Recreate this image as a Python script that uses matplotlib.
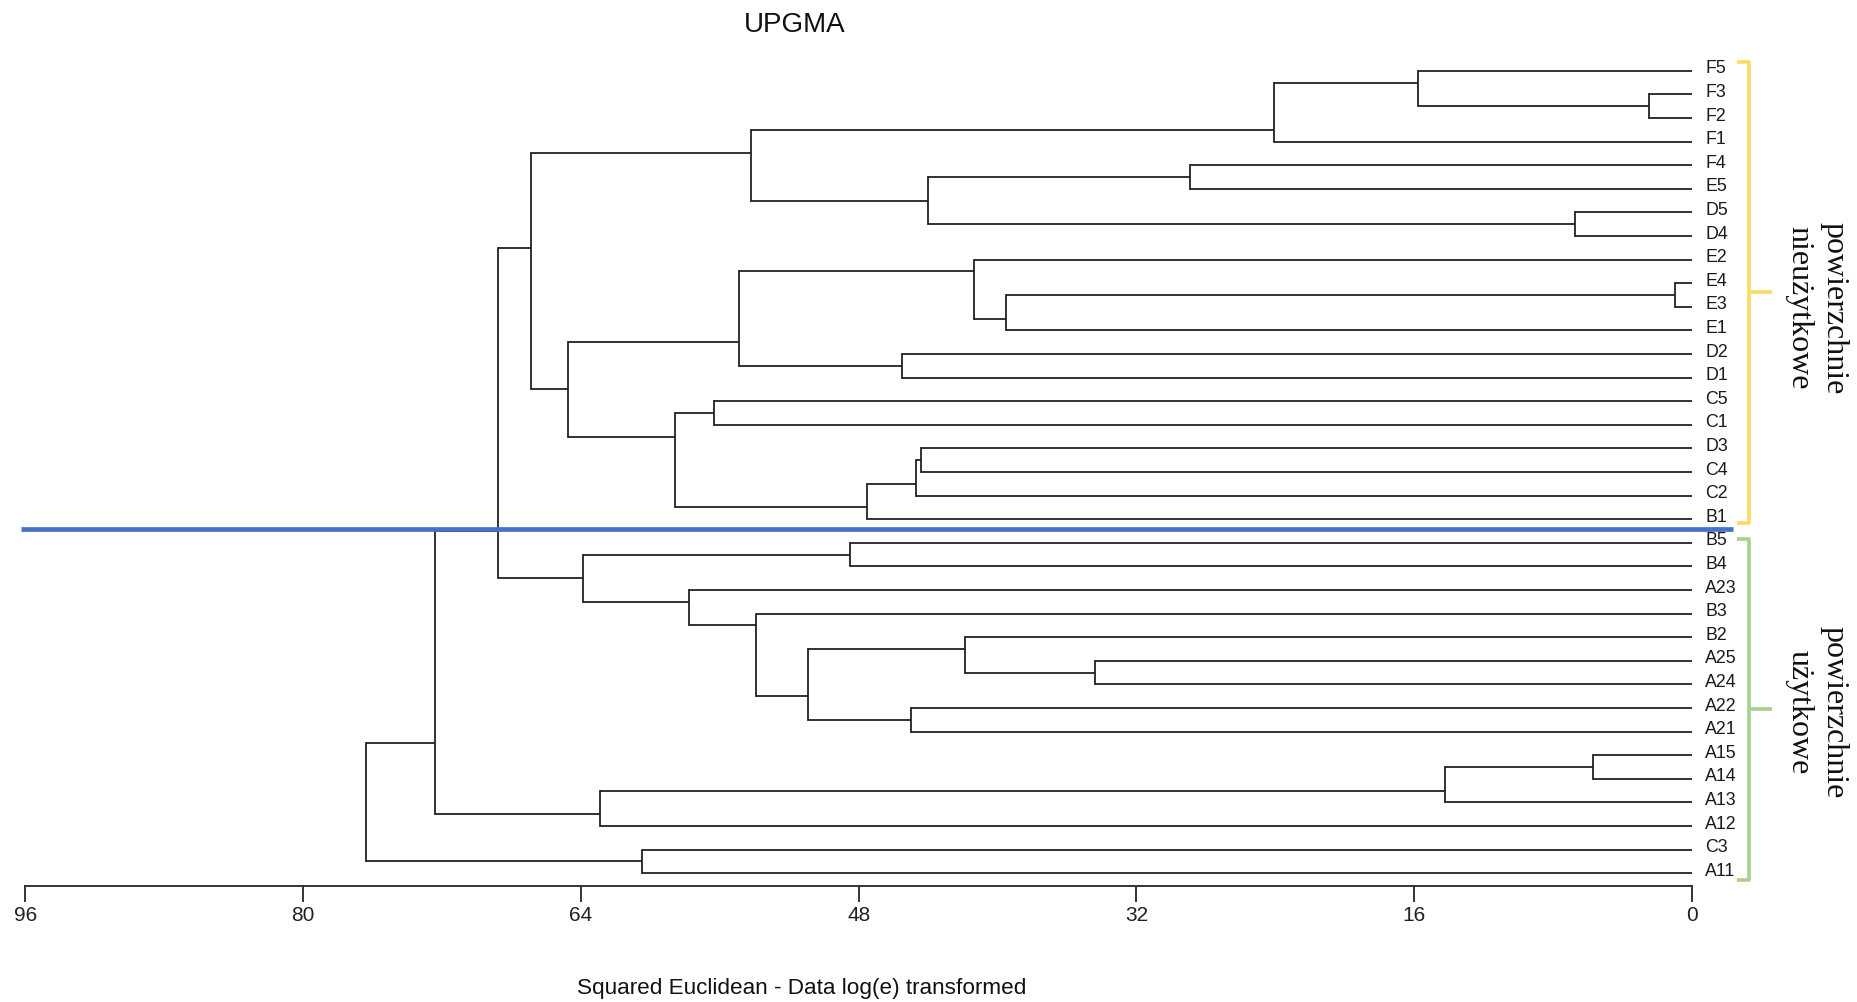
import matplotlib
matplotlib.use("Agg")
import matplotlib.pyplot as plt

# ---------------- data ----------------
leaves = ["F5", "F3", "F2", "F1", "F4", "E5", "D5", "D4", "E2", "E4", "E3", "E1",
          "D2", "D1", "C5", "C1", "D3", "C4", "C2", "B1", "B5", "B4", "A23", "B3",
          "B2", "A25", "A24", "A22", "A21", "A15", "A14", "A13", "A12", "C3", "A11"]

# merges: (left child, right child, height); children are leaf names or node ids "n#"
merge_left = ["F3", "F5", "n2", "F4", "D5", "n4", "n3", "E4", "n8", "E2", "D2", "n10",
              "C5", "D3", "n14", "n15", "n13", "n12", "n7", "B5", "A25", "B2", "A22",
              "n22", "B3", "A23", "n20", "n19", "A15", "n29", "n30", "n28", "C3", "n32"]
merge_right = ["F2", "n1", "F1", "E5", "D4", "n5", "n6", "E3", "E1", "n9", "D1", "n11",
               "C1", "C4", "C2", "B1", "n16", "n17", "n18", "B4", "A24", "n21", "A21",
               "n23", "n24", "n25", "n26", "n27", "A14", "A13", "A12", "n31", "A11", "n33"]
merge_height = [2.5, 15.8, 24.05, 28.9, 6.75, 44.0, 54.2, 1.0, 39.5, 41.35, 45.5, 54.9,
                56.35, 44.4, 44.7, 47.5, 58.6, 64.75, 66.9, 48.5, 34.4, 41.85, 45.0,
                50.9, 53.9, 57.8, 63.9, 68.8, 5.7, 14.2, 62.9, 72.4, 60.5, 76.4]

ticks = [96, 80, 64, 48, 32, 16, 0]
cut_height = 96.25  # blue cut line extends from left edge

title = "UPGMA"
xlabel = "Squared Euclidean - Data log(e) transformed"
group_top = "powierzchnie\nnieużytkowe"
group_bottom = "powierzchnie\nużytkowe"

# ---------------- figure ----------------
W, H = 1858, 1002
fig = plt.figure(figsize=(W / 100, H / 100), dpi=100)
ax = fig.add_axes([0, 0, 1, 1])
px_per_unit = 17.36
x0 = 1692.0
ax.set_xlim(x0 / px_per_unit, (x0 - W) / px_per_unit)
y_first, y_step = 70.7, 23.6
ax.set_ylim((H - y_first) / y_step, -y_first / y_step)
ax.axis("off")

LC = "#222222"
LW = 1.3

# node info: id -> (height, y_out, min_leaf, max_leaf)
info = {}
for i, name in enumerate(leaves):
    info[name] = (0.0, float(i), i, i)

for k, (l, r, h) in enumerate(zip(merge_left, merge_right, merge_height)):
    nid = "n%d" % (k + 1)
    hl, yl, mnl, mxl = info[l]
    hr, yr, mnr, mxr = info[r]
    ax.plot([hl, h], [yl, yl], color=LC, lw=LW, solid_capstyle="butt")
    ax.plot([hr, h], [yr, yr], color=LC, lw=LW, solid_capstyle="butt")
    ax.plot([h, h], [yl, yr], color=LC, lw=LW, solid_capstyle="projecting")
    yout = (mxl + mnr) / 2.0
    info[nid] = (h, yout, min(mnl, mnr), max(mxl, mxr))

# leaf labels
for i, name in enumerate(leaves):
    ax.text(-0.75, i - 0.08, name, ha="left", va="center", fontsize=12.8,
            family="Liberation Sans", color="#1a1a1a")

# axis
axis_y = 34.55
ax.plot([ticks[0], ticks[-1]], [axis_y, axis_y], color="#333333", lw=1.4)
for t in ticks:
    ax.plot([t, t], [axis_y, 35.2], color="#333333", lw=1.4)
    ax.text(t, 35.78, str(t), ha="center", va="center", fontsize=15,
            family="Liberation Sans", color="#222222")

# cut line (between the two groups)
ax.plot([cut_height, -2.36], [19.42, 19.42], color="#4472C4", lw=3.4,
        solid_capstyle="butt", zorder=5)

# brackets
def bracket(y_top, y_bot, y_mid, color):
    xv, xh, xt = -3.29, -2.6, -4.6
    ax.plot([xh, xv, xv, xh], [y_top, y_top, y_bot, y_bot], color=color, lw=2.6,
            solid_joinstyle="round", solid_capstyle="butt")
    ax.plot([xv, xt], [y_mid, y_mid], color=color, lw=2.6, solid_capstyle="butt")

bracket(-0.37, 19.17, 9.36, "#FFD966")
bracket(19.84, 34.3, 27.03, "#A9D18E")

ax.text(-7.18, 10.06, group_top, rotation=270, ha="center", va="center",
        multialignment="center", fontsize=23, family="Liberation Serif",
        linespacing=1.28, color="#111111")
ax.text(-7.18, 27.2, group_bottom, rotation=270, ha="center", va="center",
        multialignment="center", fontsize=23, family="Liberation Serif",
        linespacing=1.28, color="#111111")

# title and x label
ax.text(51.7, -1.94, title, ha="center", va="center", fontsize=20,
        family="Liberation Sans", color="#111111")
ax.text(51.3, 38.87, xlabel, ha="center", va="center", fontsize=16.2,
        family="Liberation Sans", color="#111111")

fig.savefig("out.png", dpi=100)
